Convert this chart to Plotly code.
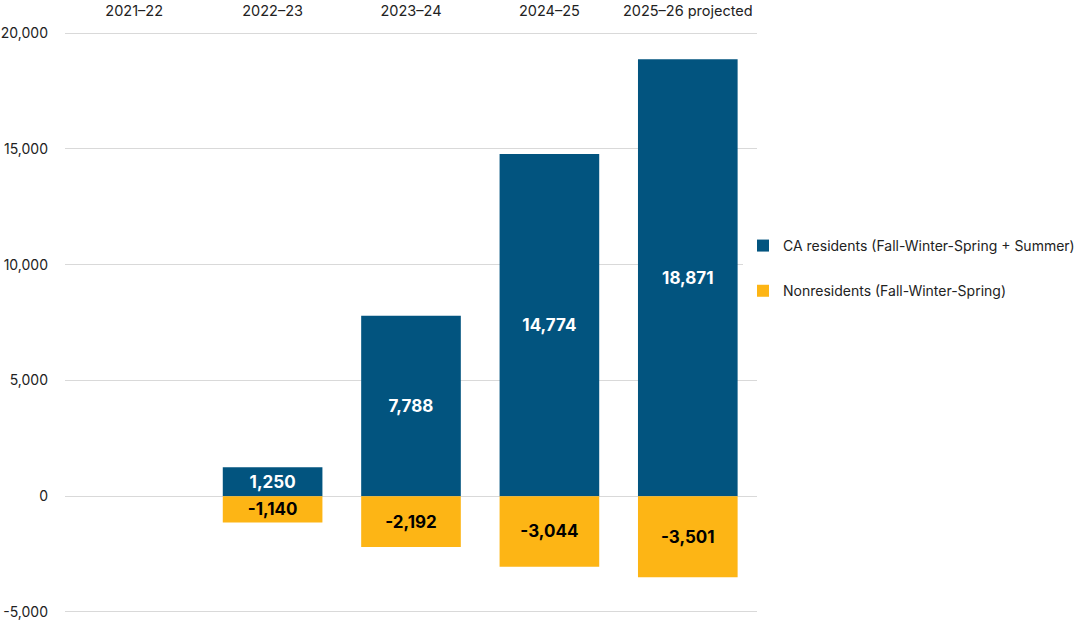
import plotly.graph_objects as go

categories = ["2021–22", "2022–23", "2023–24", "2024–25", "2025–26 projected"]
ca_residents = [None, 1250, 7788, 14774, 18871]
nonresidents = [None, -1140, -2192, -3044, -3501]
y_ticks = [-5000, 0, 5000, 10000, 15000, 20000]
y_tick_labels = ["-5,000", "0", "5,000", "10,000", "15,000", "20,000"]

font_family = "Inter, Noto Sans, sans-serif"

def fmt(v):
    return "" if v is None else f"{v:,}"

fig = go.Figure()
fig.add_trace(go.Bar(
    x=categories, y=ca_residents,
    name="CA residents (Fall-Winter-Spring + Summer)",
    legendgroup="a",
    marker=dict(color="#02547F", line=dict(width=0)),
    text=[fmt(v) for v in ca_residents],
    textposition="inside", insidetextanchor="middle",
    textfont=dict(color="white", size=17, family=font_family, weight="bold"),
    constraintext="none",
))
fig.add_trace(go.Bar(
    x=categories, y=nonresidents,
    name="Nonresidents (Fall-Winter-Spring)",
    legendgroup="b",
    marker=dict(color="#FDB515", line=dict(width=0)),
    text=[fmt(v) for v in nonresidents],
    textposition="inside", insidetextanchor="middle",
    textfont=dict(color="black", size=17, family=font_family, weight="bold"),
    constraintext="none",
))

fig.update_layout(
    width=1084, height=623,
    barmode="relative", bargap=0.28,
    paper_bgcolor="white", plot_bgcolor="white",
    margin=dict(l=65, r=327, t=32, b=10, autoexpand=False),
    font=dict(family=font_family, size=14, color="#222222"),
    legend=dict(
        x=0.9798, y=0.593, xanchor="left", yanchor="middle",
        font=dict(size=14, color="#222222"),
        tracegroupgap=24, itemsizing="constant",
        traceorder="grouped",
    ),
    xaxis=dict(
        side="top", showgrid=False, showline=False, ticks="",
        ticklabelstandoff=12,
        tickfont=dict(size=14.5, color="#222222"),
    ),
    yaxis=dict(
        range=[-5045, 20045], tickvals=y_ticks, ticktext=y_tick_labels,
        showgrid=True, gridcolor="#D9D9D9", gridwidth=1,
        zeroline=True, zerolinecolor="#D9D9D9", zerolinewidth=1,
        showline=False, ticks="", ticklabelstandoff=16,
        tickfont=dict(size=14, color="#222222"),
    ),
)

fig.write_html("out.html")
